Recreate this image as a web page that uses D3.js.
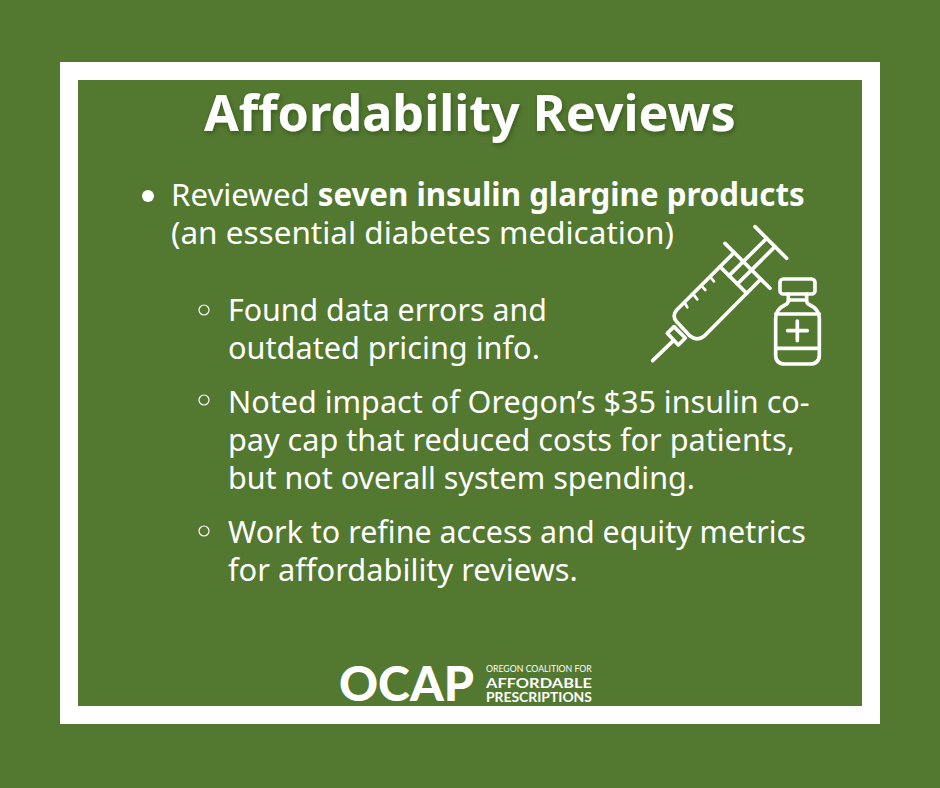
<!DOCTYPE html>
<html><head><meta charset="utf-8">
<script src="https://cdn.jsdelivr.net/npm/d3@7"></script>
<style>html,body{margin:0;padding:0;background:#53782f}svg{display:block}</style></head>
<body><div id="c"></div>
<script>
const titleText = "Affordability Reviews";
const bodyLines = [
  [["Reviewed ",400],["seven insulin glargine products",700]],
  [["(an essential diabetes medication)",400]],
  [["Found data errors and",400]],
  [["outdated pricing info.",400]],
  [["Noted impact of Oregon’s $35 insulin co-",400]],
  [["pay cap that reduced costs for patients,",400]],
  [["but not overall system spending.",400]],
  [["Work to refine access and equity metrics",400]],
  [["for affordability reviews.",400]]
];
const logoLines = ["OREGON COALITION FOR","AFFORDABLE","PRESCRIPTIONS"];
const logoMark = "OCAP";

const W=940,H=788,green="#53782f",FONT="'Noto Sans',sans-serif";
const svg=d3.select("#c").append("svg").attr("width",W).attr("height",H);
svg.append("rect").attr("width",W).attr("height",H).attr("fill",green);
svg.append("rect").attr("x",69).attr("y",71).attr("width",802).attr("height",644)
  .attr("fill","none").attr("stroke","#fff").attr("stroke-width",18);

const defs=svg.append("defs");
defs.append("filter").attr("id","sh").attr("x","-5%").attr("y","-20%").attr("width","110%").attr("height","150%")
  .append("feDropShadow").attr("dx",1).attr("dy",2).attr("stdDeviation",2).attr("flood-color","#1e3010").attr("flood-opacity",.45);

function fit(sel,x,y,w){
  sel.attr("transform",`translate(${x},${y})`);
  const n=sel.node().getComputedTextLength();
  sel.attr("transform",`translate(${x},${y}) scale(${w/n},1)`);
}
const title=svg.append("text").attr("font-family",FONT).attr("font-weight",700).attr("font-size",50)
  .attr("fill","#fff").attr("filter","url(#sh)").text(titleText);
fit(title,204,131,532);

const bx=[171,171,228,228,228,228,228,228,228];
const by=[206,244,321,359,413,451,489,543,581];
const bw=[634,503,319,312,582,567,467,578,350];
bodyLines.forEach((runs,i)=>{
  const t=svg.append("text").attr("font-family",FONT).attr("font-size",31.5).attr("fill","#fff");
  t.selectAll("tspan").data(runs).join("tspan").attr("font-weight",d=>d[1]).text(d=>d[0]).style("white-space","pre");
  fit(t,bx[i],by[i],bw[i]);
});
svg.append("circle").attr("cx",148).attr("cy",196).attr("r",6).attr("fill","#fff");
svg.selectAll("circle.h").data([310,400,531]).join("circle").attr("class","h")
  .attr("cx",204).attr("cy",d=>d).attr("r",5).attr("fill","none").attr("stroke","#fff").attr("stroke-width",1.2);

// icon drawn in 3x crop units of the region starting at (640,210)
const icon=svg.append("g").attr("transform","translate(640,210) scale(.3333)")
  .attr("fill","none").attr("stroke","#fff").attr("stroke-width",11).attr("stroke-linecap","round").attr("stroke-linejoin","round");
const segs=[
 [[38,452],[100,392]],[[255,100],[390,235]],[[345,50],[440,145]],
 [[240,170],[320,250]],[[267,197],[380,85]],[[292,222],[405,110]],
 [[210,200],[222,214]],[[183,226],[196,240]],[[158,250],[172,268]],[[133,276],[142,292]]
];
const ln=d3.line();
icon.selectAll("path.s").data(segs).join("path").attr("class","s").attr("d",ln).attr("stroke-width",(d,i)=>i>5?8:11);
icon.append("path").attr("d","M282,128 L110,300 Q95,318 110,335 L150,378 Q172,395 193,378 L362,208");
icon.append("path").attr("d","M102,350 L82,370 L115,405 L136,384 Z");
icon.append("rect").attr("x",420).attr("y",207).attr("width",105).attr("height",45).attr("rx",10);
icon.append("path").attr("d","M445,252 V272 Q445,280 435,285 Q407,298 407,325 V435 Q407,462 435,462 H510 Q538,462 538,435 V325 Q538,298 510,285 Q500,280 500,272 V252 M445,270 H500");
icon.append("path").attr("d","M407,312 H538 M407,415 H538 M472,333 V392 M443,362 H502");

// logo
const mark=svg.append("text").attr("font-family","Lato,sans-serif").attr("font-weight",900).attr("font-size",47)
  .attr("fill","#fff").text(logoMark);
fit(mark,339,701,135);
const ly=[672,688,702],lw=[106,106,106],lf=[9,13.5,13.5],lwt=[400,700,700];
logoLines.forEach((s,i)=>{
  const t=svg.append("text").attr("font-family","Lato,sans-serif").attr("font-size",lf[i]).attr("font-weight",lwt[i]).attr("fill","#fff").text(s);
  fit(t,486,ly[i],lw[i]);
});
</script></body></html>
